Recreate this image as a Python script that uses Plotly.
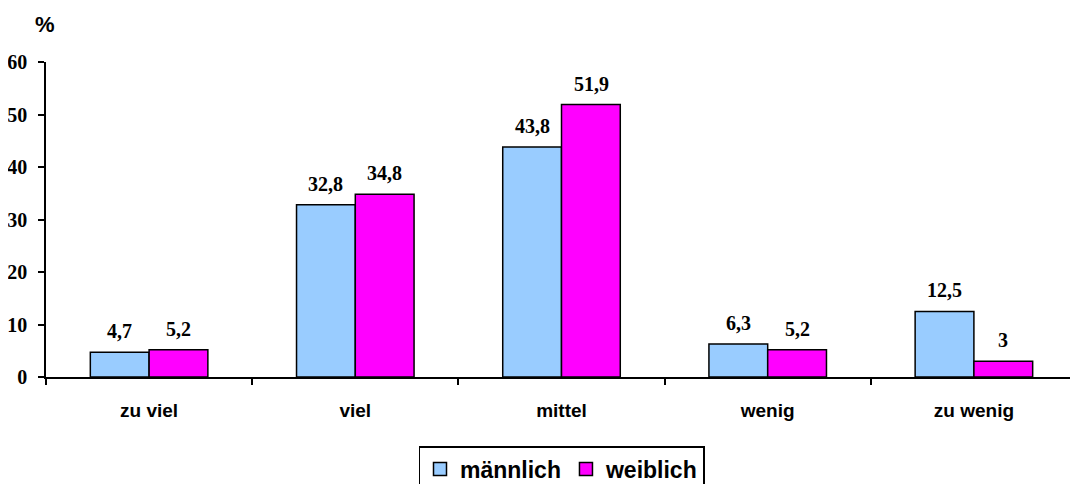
import plotly.graph_objects as go

categories = ["zu viel", "viel", "mittel", "wenig", "zu wenig"]
maennlich = [4.7, 32.8, 43.8, 6.3, 12.5]
weiblich = [5.2, 34.8, 51.9, 5.2, 3]
y_ticks = [0, 10, 20, 30, 40, 50, 60]
series_names = ["männlich", "weiblich"]
series_colors = ["#99CCFF", "#FF00FF"]

def fmt(v):
    return f"{v:g}".replace(".", ",")

# page has an 8px body margin; figure is sized so it ends at the window edge
OFF = 8
W, H = 1078 - OFF, 484 - OFF
ML, MR, MT, MB = 46 - OFF, 1, 62 - OFF, 107

fig = go.Figure()
for name, vals, col in zip(series_names, [maennlich, weiblich], series_colors):
    fig.add_trace(go.Bar(
        x=categories, y=vals, name=name, showlegend=False,
        marker=dict(color=col, line=dict(color="black", width=1.5)),
    ))
# legend entries with square symbols
for name, col in zip(series_names, series_colors):
    fig.add_trace(go.Scatter(
        x=[None], y=[None], mode="markers", name=f"<b>{name}</b>",
        marker=dict(symbol="square", size=13, color=col, line=dict(color="black", width=1.5)),
    ))

annotations = []
for vals, xs in ((maennlich, -29.5), (weiblich, 29.5)):
    for c, v in zip(categories, vals):
        annotations.append(dict(
            x=c, y=v, xref="x", yref="y", text=f"<b>{fmt(v)}</b>", showarrow=False,
            xshift=xs, yshift=21, yanchor="middle",
            font=dict(family="Liberation Serif", size=20, color="black"),
        ))
plot_h = H - MT - MB
annotations.append(dict(
    text="<b>%</b>", xref="paper", yref="paper", showarrow=False,
    x=(45 - 46) / (W - ML - MR), y=(377 - 25) / plot_h,
    xanchor="center", yanchor="middle",
    font=dict(family="Liberation Sans", size=22, color="black"),
))

fig.update_layout(
    width=W, height=H,
    margin=dict(l=ML, r=MR, t=MT, b=MB, autoexpand=False),
    plot_bgcolor="white", paper_bgcolor="white",
    barmode="group", bargap=0.43, bargroupgap=0,
    showlegend=True,
    legend=dict(
        orientation="h", x=0.5, xanchor="center",
        y=-(446 - 377) / plot_h, yanchor="top",
        bordercolor="black", borderwidth=1.5,
        font=dict(family="Liberation Sans", size=23, color="black"),
        itemwidth=30, tracegroupgap=0,
    ),
    annotations=annotations,
)
fig.update_xaxes(
    showline=True, linecolor="black", linewidth=1.5,
    ticks="outside", tickson="boundaries", ticklen=6, tickcolor="black", tickwidth=1.5,
    tickfont=dict(family="Liberation Sans", size=19, color="black"),
    tickprefix="<b>", ticksuffix="</b>", ticklabelstandoff=15,
    showgrid=False, automargin=False,
)
fig.update_yaxes(
    range=[0, 60], tickvals=y_ticks, ticktext=[f"<b>{v}</b>" for v in y_ticks],
    showline=True, linecolor="black", linewidth=1.5,
    ticks="outside", ticklen=6, tickcolor="black", tickwidth=1.5,
    tickfont=dict(family="Liberation Serif", size=20, color="black"),
    ticklabelstandoff=7,
    showgrid=False, zeroline=False, automargin=False,
)
fig.write_html("out.html")
